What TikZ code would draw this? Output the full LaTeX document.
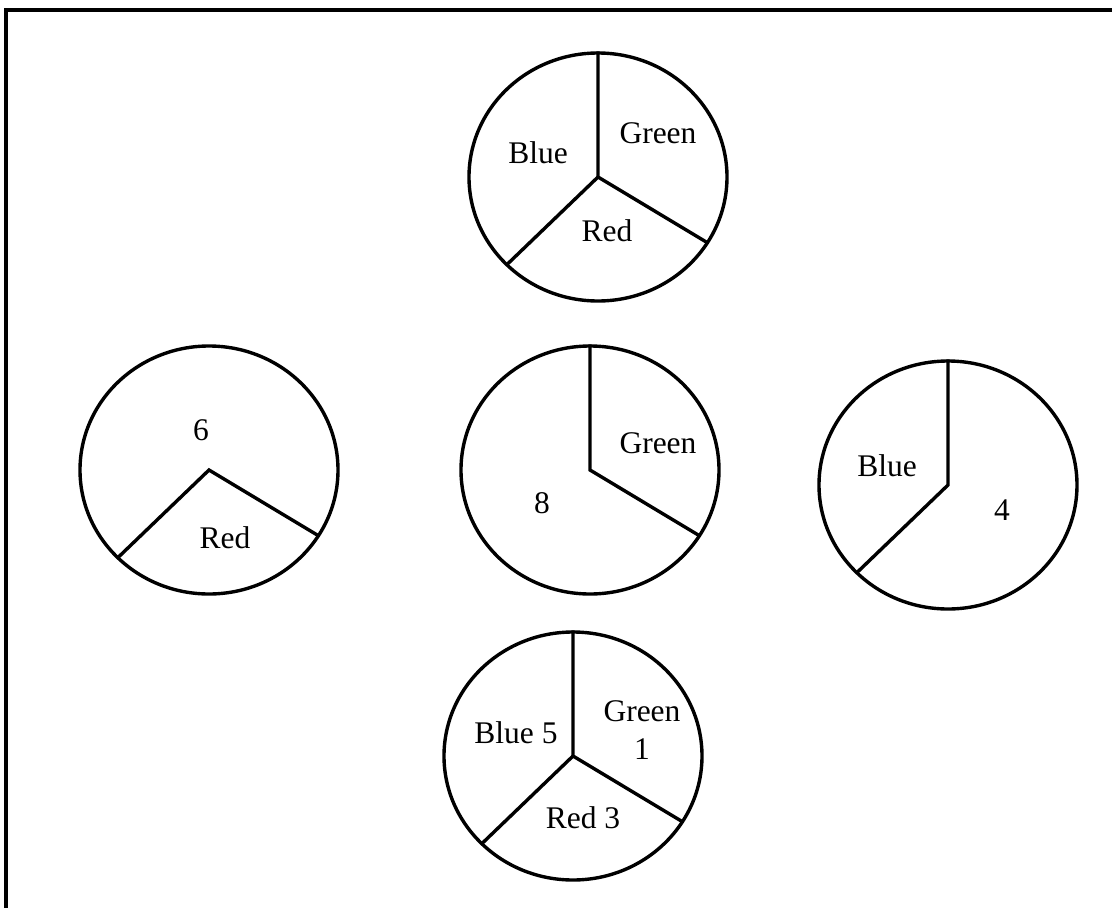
\documentclass[tikz,border=0pt]{standalone}
\usepackage{fontspec}
\setmainfont{Liberation Serif}
\usetikzlibrary{calc,shapes.geometric}
\tikzset{
  pie/.style={draw=black, line width=3.4pt, ellipse, minimum width=258pt, minimum height=248pt, inner sep=0pt},
  spoke/.style={draw=black, line width=3.4pt, line cap=butt, line join=miter},
  frameline/.style={draw=black, line width=3.2pt},
  lbl/.style={inner sep=0pt, font=\fontsize{31.5}{37.5}\selectfont, align=center}
}
\begin{document}
\begin{tikzpicture}[x=1pt,y=-1pt]
  \useasboundingbox (0,0) rectangle (1112,908);

  % frame (top and left edges)
  \coordinate (ftr) at (1112,10);
  \coordinate (ftl) at (6,10);
  \coordinate (fbl) at (6,908);
  \draw[frameline] (ftr) -- (ftl) -- (fbl);

  % pie centres
  \coordinate (ct) at (598,177);
  \coordinate (cl) at (209,470);
  \coordinate (cm) at (590,470);
  \coordinate (cr) at (948,485);
  \coordinate (cb) at (573,756);

  % outlines
  \node[pie] (pt) at (ct) {};
  \node[pie] (pl) at (cl) {};
  \node[pie] (pm) at (cm) {};
  \node[pie] (pr) at (cr) {};
  \node[pie] (pb) at (cb) {};

  % spokes
  \draw[spoke] (pt.north) -- (ct) -- ($(ct)+(109.4,65.7)$);
  \draw[spoke] (ct) -- ($(ct)+(-91.2,87.7)$);

  \draw[spoke] ($(cl)+(-91.2,87.7)$) -- (cl) -- ($(cl)+(109.4,65.7)$);

  \draw[spoke] (pm.north) -- (cm) -- ($(cm)+(109.4,65.7)$);

  \draw[spoke] (pr.north) -- (cr) -- ($(cr)+(-91.2,87.7)$);

  \draw[spoke] (pb.north) -- (cb) -- ($(cb)+(109.4,65.7)$);
  \draw[spoke] (cb) -- ($(cb)+(-91.2,87.7)$);

  % labels
  \node[lbl] (tb) at (538,153) {Blue};
  \node[lbl] (tg) at (658,133) {Green};
  \node[lbl] (tr) at (607,231) {Red};

  \node[lbl] (l6) at (201,430) {6};
  \node[lbl] (lr) at (225,538) {Red};

  \node[lbl] (mg) at (658,443) {Green};
  \node[lbl] (m8) at (542,503) {8};

  \node[lbl] (rb) at (887,466) {Blue};
  \node[lbl] (r4) at (1002,510) {4};

  \node[lbl] (bb) at (516,733) {Blue 5};
  \node[lbl] (bg) at (642,730) {Green\\1};
  \node[lbl] (br) at (583,818) {Red 3};
\end{tikzpicture}
\end{document}
